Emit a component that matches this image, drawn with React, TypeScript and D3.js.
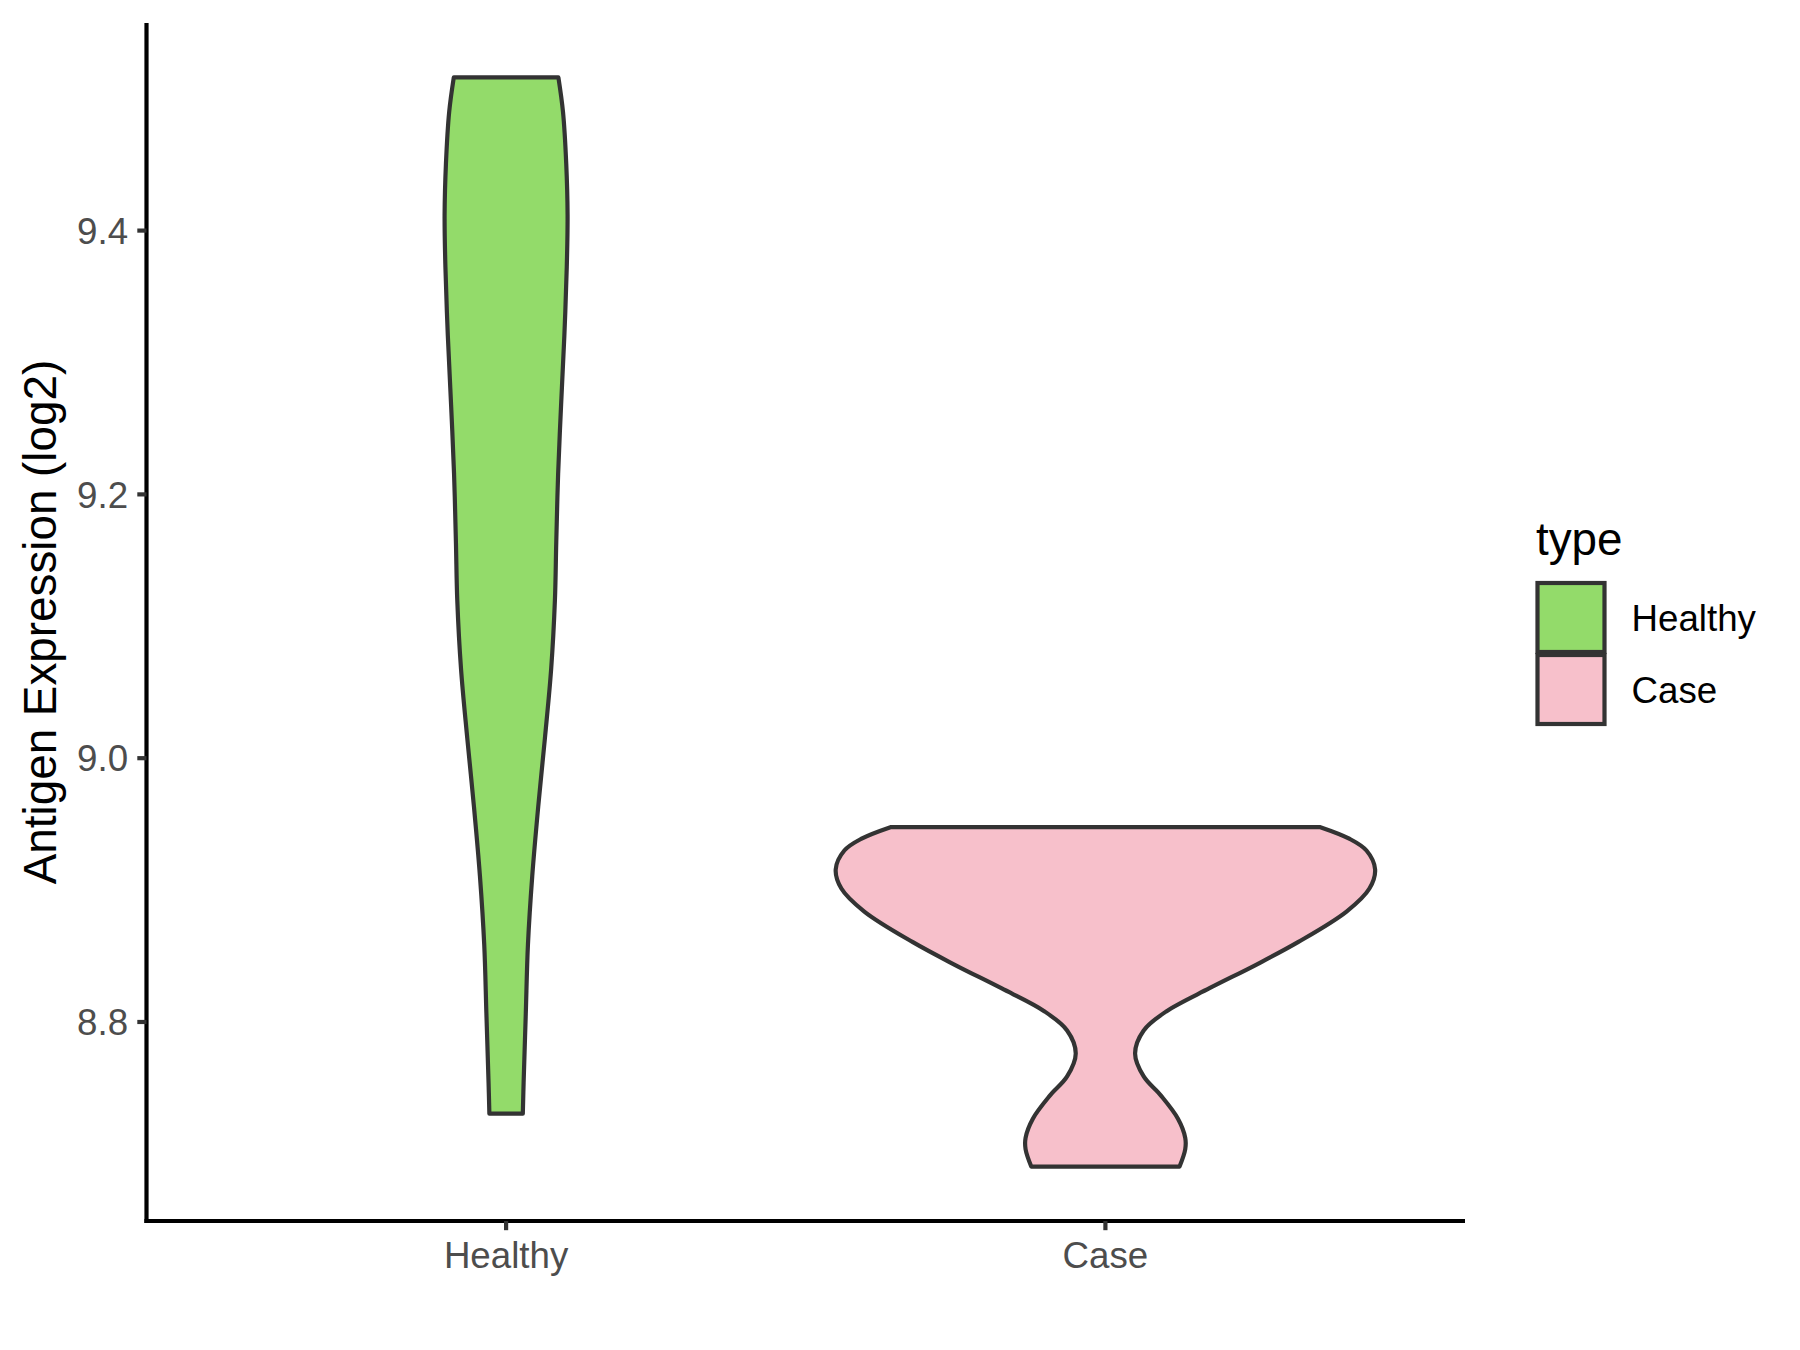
import React from "react";
import * as d3 from "d3";

const categories = ["Healthy", "Case"];
const fillColors = ["#93DB6A", "#F7C0CB"];
const yTicks = [8.8, 9.0, 9.2, 9.4];

// violin profiles: expression value (log2) and relative density (1 = widest)
const healthyValues = [9.5161, 9.49, 9.4508, 9.4116, 9.3725, 9.3202, 9.268, 9.2158, 9.1635, 9.1196, 9.0673, 9.0152, 8.9629, 8.9107, 8.8584, 8.8062, 8.754, 8.7305];
const healthyDensity = [0.194, 0.211, 0.223, 0.228, 0.225, 0.216, 0.204, 0.193, 0.186, 0.181, 0.167, 0.144, 0.119, 0.097, 0.081, 0.073, 0.065, 0.062];
const caseValues = [8.9477, 8.939, 8.93, 8.9157, 8.9012, 8.8837, 8.8605, 8.843, 8.8256, 8.8082, 8.7936, 8.7762, 8.7587, 8.7442, 8.7267, 8.7122, 8.7035, 8.6904];
const caseDensity = [0.797, 0.904, 0.968, 1.0, 0.979, 0.894, 0.714, 0.555, 0.386, 0.227, 0.142, 0.11, 0.142, 0.206, 0.269, 0.296, 0.296, 0.275];

const W = 1800;
const H = 1350;
const panel = { left: 146.5, right: 1465, top: 23, bottom: 1221 };
const FONT = "'Liberation Sans', Arial, Helvetica, sans-serif";
const LW = 4.2;

export default function App() {
  const series = [
    { name: categories[0], values: healthyValues, density: healthyDensity, fill: fillColors[0] },
    { name: categories[1], values: caseValues, density: caseDensity, fill: fillColors[1] },
  ];
  const allVals = [...healthyValues, ...caseValues];
  const [mn, mx] = d3.extent(allVals) as [number, number];
  const pad = (mx - mn) * 0.05;
  const y = d3.scaleLinear().domain([mn - pad, mx + pad]).range([panel.bottom, panel.top]);
  const x = d3.scalePoint<string>().domain(categories).range([panel.left, panel.right]).padding(0.6);
  const step = x.step();
  const wScale = d3.scaleLinear().domain([0, 1]).range([0, 0.45 * step]);

  const tickLen = 9.2;
  const keyTop = 582;
  const keySize = 72;

  return (
    <svg width={W} height={H} style={{ position: "absolute", left: 0, top: 0, background: "#fff" }} fontFamily={FONT}>
      <rect x={0} y={0} width={W} height={H} fill="#fff" />
      {series.map((s) => {
        const cx = x(s.name)!;
        const pts = s.values.map((v, i) => ({ v, d: s.density[i] }));
        const area = d3
          .area<{ v: number; d: number }>()
          .y((p) => y(p.v))
          .x0((p) => cx - wScale(p.d))
          .x1((p) => cx + wScale(p.d))
          .curve(d3.curveCatmullRom.alpha(0.5));
        return (
          <path key={s.name} d={area(pts) || ""} fill={s.fill} stroke="#333333" strokeWidth={LW} strokeLinejoin="round" />
        );
      })}
      {/* axes */}
      <line x1={panel.left} x2={panel.left} y1={panel.top} y2={panel.bottom + LW / 2} stroke="#000" strokeWidth={LW} />
      <line x1={panel.left - LW / 2} x2={panel.right} y1={panel.bottom} y2={panel.bottom} stroke="#000" strokeWidth={LW} />
      {yTicks.map((t) => (
        <g key={t}>
          <line x1={panel.left - tickLen} x2={panel.left} y1={y(t)} y2={y(t)} stroke="#333333" strokeWidth={LW} />
          <text x={panel.left - tickLen - 9.2} y={y(t)} dy="0.36em" textAnchor="end" fontSize={36.7} fill="#4D4D4D">
            {t.toFixed(1)}
          </text>
        </g>
      ))}
      {categories.map((c) => (
        <g key={c}>
          <line x1={x(c)} x2={x(c)} y1={panel.bottom} y2={panel.bottom + tickLen} stroke="#333333" strokeWidth={LW} />
          <text x={x(c)} y={1268} textAnchor="middle" fontSize={36.7} fill="#4D4D4D">
            {c}
          </text>
        </g>
      ))}
      <text transform={`translate(56, ${(panel.top + panel.bottom) / 2}) rotate(-90)`} textAnchor="middle" fontSize={45.8} fill="#000">
        Antigen Expression (log2)
      </text>
      {/* legend */}
      <text x={1536} y={555} fontSize={45.8} fill="#000">type</text>
      {series.map((s, i) => (
        <g key={s.name}>
          <rect x={1537.5} y={keyTop + i * keySize + 1} width={67} height={69} fill={s.fill} stroke="#333333" strokeWidth={LW} />
          <text x={1631.5} y={keyTop + i * keySize + keySize / 2} dy="0.36em" fontSize={36.7} fill="#000">
            {s.name}
          </text>
        </g>
      ))}
    </svg>
  );
}
